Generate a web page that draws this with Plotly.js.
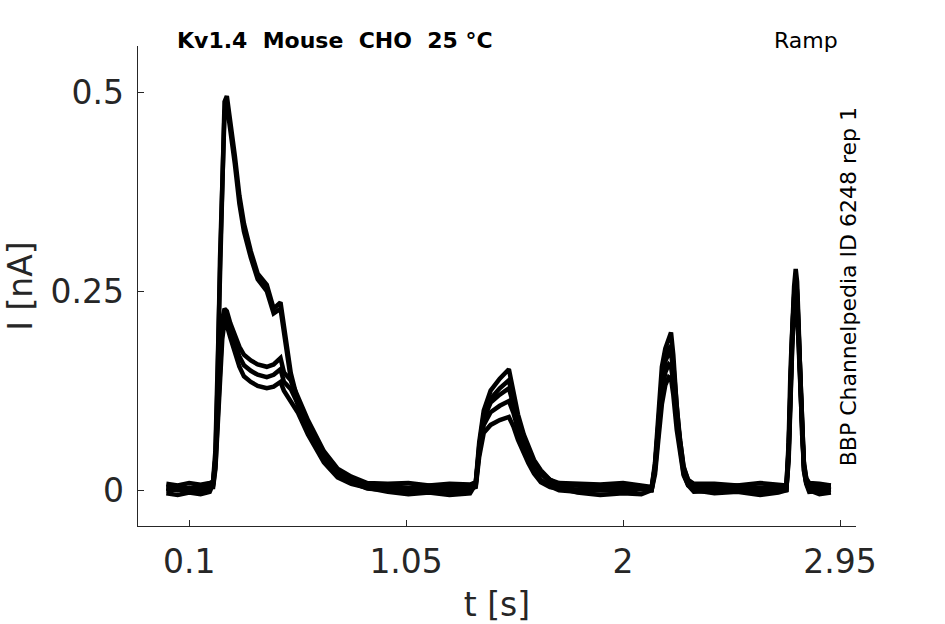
<!DOCTYPE html>
<html>
<head>
<meta charset="utf-8">
<script src="https://cdn.plot.ly/plotly-3.0.1.min.js"></script>
<style>
  html, body { margin: 0; padding: 0; background: #fff; }
  #myDiv { width: 945px; height: 624px; }
</style>
</head>
<body>
<div id="myDiv"></div>
<script>
// time points [s], shared by all sweeps
var t = [
  0, 0.05, 0.1, 0.15, 0.19,
  0.205, 0.215, 0.225, 0.235, 0.245, 0.255, 0.265, 0.28, 0.3, 0.32, 0.34, 0.37, 0.4, 0.44, 0.47, 0.5, 0.515, 0.545, 0.575, 0.62, 0.69, 0.75, 0.81, 0.88,
  0.97, 1.06, 1.15, 1.24, 1.33,
  1.355, 1.37, 1.39, 1.42, 1.46, 1.5, 1.52, 1.54, 1.565, 1.585, 1.61, 1.64, 1.68, 1.72,
  1.8, 1.9, 2.0, 2.08,
  2.125, 2.14, 2.155, 2.17, 2.185, 2.2, 2.21, 2.22, 2.235, 2.25, 2.265, 2.285, 2.31,
  2.4, 2.5, 2.6, 2.68,
  2.715, 2.725, 2.733, 2.741, 2.749, 2.756, 2.762, 2.768, 2.776, 2.784, 2.792, 2.802, 2.815,
  2.86, 2.91
];

// current [nA], one array per sweep
var sweepA = [
  0.003, 0.005, 0.002, 0.006, 0.007,
  0.012, 0.05, 0.16, 0.31, 0.43, 0.488, 0.495, 0.465, 0.42, 0.37, 0.335, 0.3, 0.272, 0.258, 0.228, 0.236, 0.205, 0.147, 0.113, 0.08, 0.042, 0.024, 0.014, 0.008,
  0.005, 0.003, 0.006, 0.004, 0.006,
  0.01, 0.06, 0.1, 0.125, 0.14, 0.152, 0.12, 0.095, 0.07, 0.055, 0.038, 0.025, 0.013, 0.007,
  0.006, 0.004, 0.005, 0.003,
  0.002, 0.035, 0.1, 0.155, 0.178, 0.19, 0.198, 0.17, 0.105, 0.062, 0.03, 0.012, 0.005,
  0.005, 0.006, 0.003, 0.005,
  0.004, 0.06, 0.15, 0.21, 0.256, 0.278, 0.262, 0.215, 0.135, 0.07, 0.035, 0.015, 0.006,
  0.004, 0.006
];
var sweepB = [
  -0.004, -0.006, -0.003, -0.005, -0.002,
  0.008, 0.04, 0.14, 0.29, 0.41, 0.475, 0.485, 0.455, 0.41, 0.36, 0.325, 0.292, 0.265, 0.25, 0.222, 0.228, 0.196, 0.14, 0.108, 0.076, 0.038, 0.02, 0.01, 0.003,
  -0.002, -0.005, -0.003, -0.006, -0.004,
  0.008, 0.055, 0.095, 0.115, 0.128, 0.138, 0.112, 0.088, 0.064, 0.05, 0.034, 0.021, 0.01, 0.003,
  -0.003, -0.006, -0.004, -0.005,
  0.0, 0.03, 0.09, 0.14, 0.168, 0.178, 0.182, 0.158, 0.098, 0.056, 0.026, 0.008, 0.0,
  -0.004, -0.002, -0.006, -0.003,
  0.0, 0.05, 0.14, 0.2, 0.245, 0.265, 0.25, 0.205, 0.128, 0.065, 0.03, 0.01, 0.0,
  -0.005, -0.003
];
var sweepC = [
  0.008, 0.006, 0.009, 0.007, 0.009,
  0.01, 0.04, 0.1, 0.17, 0.215, 0.228, 0.225, 0.21, 0.195, 0.18, 0.17, 0.163, 0.158, 0.155, 0.158, 0.166, 0.148, 0.138, 0.118, 0.088, 0.049, 0.027, 0.017, 0.009,
  0.008, 0.009, 0.006, 0.008, 0.007,
  0.01, 0.05, 0.09, 0.11, 0.12, 0.128, 0.108, 0.085, 0.062, 0.048, 0.033, 0.022, 0.013, 0.009,
  0.008, 0.007, 0.009, 0.006,
  0.004, 0.03, 0.085, 0.135, 0.162, 0.172, 0.172, 0.15, 0.095, 0.056, 0.028, 0.013, 0.008,
  0.008, 0.006, 0.009, 0.007,
  0.006, 0.052, 0.138, 0.198, 0.242, 0.26, 0.246, 0.203, 0.127, 0.065, 0.032, 0.015, 0.009,
  0.008, 0.006
];
var sweepD = [
  -0.001, 0.001, -0.002, 0.0, 0.002,
  0.006, 0.03, 0.09, 0.155, 0.205, 0.222, 0.218, 0.202, 0.185, 0.168, 0.157, 0.15, 0.145, 0.142, 0.145, 0.152, 0.136, 0.127, 0.109, 0.08, 0.042, 0.022, 0.01, 0.002,
  0.0, -0.002, 0.001, -0.001, 0.0,
  0.006, 0.047, 0.082, 0.098, 0.106, 0.112, 0.097, 0.076, 0.053, 0.04, 0.025, 0.013, 0.005, 0.0,
  -0.002, 0.0, -0.001, 0.001,
  0.0, 0.025, 0.075, 0.122, 0.148, 0.158, 0.155, 0.136, 0.086, 0.048, 0.021, 0.006, -0.002,
  -0.001, 0.001, -0.002, 0.0,
  0.0, 0.043, 0.128, 0.188, 0.232, 0.25, 0.236, 0.193, 0.12, 0.059, 0.026, 0.008, -0.002,
  -0.001, 0.001
];
var sweepE = [
  0.002, 0.0, 0.003, 0.001, 0.004,
  0.004, 0.027, 0.08, 0.14, 0.19, 0.212, 0.207, 0.192, 0.172, 0.155, 0.143, 0.136, 0.131, 0.128, 0.13, 0.136, 0.125, 0.112, 0.098, 0.07, 0.035, 0.016, 0.008, 0.003,
  0.002, 0.001, 0.003, 0.0, 0.002,
  0.004, 0.042, 0.072, 0.082, 0.088, 0.092, 0.08, 0.063, 0.045, 0.034, 0.021, 0.01, 0.004, 0.002,
  0.001, 0.003, 0.0, 0.002,
  0.0, 0.02, 0.065, 0.108, 0.132, 0.142, 0.14, 0.12, 0.076, 0.042, 0.019, 0.006, 0.002,
  0.002, 0.0, 0.003, 0.001,
  0.001, 0.037, 0.122, 0.182, 0.224, 0.242, 0.228, 0.186, 0.114, 0.056, 0.024, 0.009, 0.003,
  0.002, 0.0
];

var xTicks = [0.1, 1.05, 2, 2.95],
    xTickText = ['0.1', '1.05', '2', '2.95'],
    yTicks = [0, 0.25, 0.5],
    yTickText = ['0', '0.25', '0.5'];

var sweeps = [sweepA, sweepB, sweepC, sweepD, sweepE];
var data = sweeps.map(function (s) {
  return {
    x: t,
    y: s,
    mode: 'lines',
    type: 'scatter',
    line: {color: '#000000', width: 4.5},
    hoverinfo: 'skip'
  };
});

var axisColor = '#262626';
var layout = {
  width: 945,
  height: 624,
  margin: {l: 138, r: 89, t: 46, b: 98},
  paper_bgcolor: '#ffffff',
  plot_bgcolor: '#ffffff',
  showlegend: false,
  font: {family: 'DejaVu Sans', color: axisColor},
  xaxis: {
    range: [-0.124, 3.02],
    tickvals: xTicks,
    ticktext: xTickText,
    ticks: 'inside',
    ticklen: 6,
    tickwidth: 1,
    tickcolor: axisColor,
    showline: true,
    linecolor: axisColor,
    linewidth: 1.3,
    showgrid: false,
    zeroline: false,
    ticklabelstandoff: 6,
    tickfont: {family: 'DejaVu Sans', size: 33, color: axisColor},
    title: {text: 't [s]', font: {family: 'DejaVu Sans', size: 33, color: axisColor}, standoff: 16}
  },
  yaxis: {
    range: [-0.045, 0.558],
    tickvals: yTicks,
    ticktext: yTickText,
    ticks: 'inside',
    ticklen: 6,
    tickwidth: 1,
    tickcolor: axisColor,
    showline: true,
    linecolor: axisColor,
    linewidth: 1.3,
    showgrid: false,
    zeroline: false,
    ticklabelstandoff: 6,
    tickfont: {family: 'DejaVu Sans', size: 33, color: axisColor},
    title: {text: 'I [nA]', font: {family: 'DejaVu Sans', size: 33, color: axisColor}, standoff: 8}
  },
  annotations: [
    {
      text: '<b>Kv1.4  Mouse  CHO  25 °C</b>',
      xref: 'paper', yref: 'paper', x: 0.0515, y: 1.0125,
      xanchor: 'left', yanchor: 'middle', showarrow: false,
      font: {family: 'DejaVu Sans', size: 22, color: '#000000'}
    },
    {
      text: 'Ramp',
      xref: 'paper', yref: 'paper', x: 0.978, y: 1.0125,
      xanchor: 'right', yanchor: 'middle', showarrow: false,
      font: {family: 'DejaVu Sans', size: 22, color: '#000000'}
    },
    {
      text: 'BBP Channelpedia ID 6248 rep 1',
      xref: 'paper', yref: 'paper', x: 0.99, y: 0.499,
      xanchor: 'center', yanchor: 'middle', showarrow: false, textangle: -90,
      font: {family: 'DejaVu Sans', size: 22, color: '#000000'}
    }
  ]
};

Plotly.newPlot('myDiv', data, layout, {displayModeBar: false, staticPlot: true});
</script>
</body>
</html>
